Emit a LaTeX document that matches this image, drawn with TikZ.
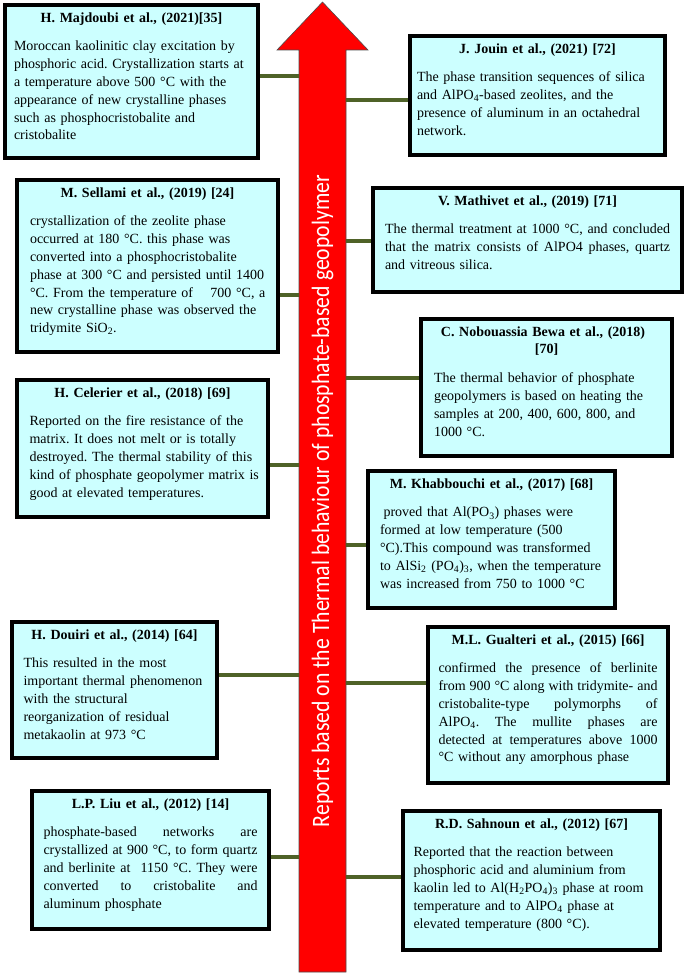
\documentclass[tikz,border=0pt]{standalone}
\usepackage{fontspec}
\setmainfont{Liberation Serif}
\newfontfamily\arrowfont{Carlito}
\usepackage{graphicx}
\definecolor{boxfill}{RGB}{204,255,255}
\definecolor{connc}{RGB}{79,98,40}
\newcommand{\ttl}[1]{{\centering\bfseries #1\par}\vspace{11pt}}
\newcommand{\jl}[2]{\hbox to #1{\spaceskip=0.25em plus 1fil\relax #2}}
\newcommand{\bx}[5]{\node[refbox, minimum width={#4-#2}, minimum height={#5-#3}] (#1) at ({(#2+#4)/2},{(#3+#5)/2}) {};}
\tikzset{
  refbox/.style={draw=black, line width=3.5pt, fill=boxfill, inner sep=0pt, rectangle},
  txt/.style={anchor=north, inner sep=0pt, font=\fontsize{14}{17.8}\selectfont, execute at begin node={\parindent=0pt\frenchspacing}},
  conn/.style={draw=connc, line width=3.5pt},
}
\begin{document}
\begin{tikzpicture}[x=1pt,y=-1pt]
\useasboundingbox (0,0) rectangle (685,976);
% arrow
\draw[fill=red, draw=black!70, line width=0.6pt] (299,972) -- (299,50) -- (277,50) -- (322.5,2) -- (368,50) -- (346,50) -- (346,972) -- cycle;
\node[rotate=90, text=white, inner sep=0pt, font=\arrowfont\fontsize{25}{25}\selectfont] (lbl) at (322.5,501) {\resizebox{652pt}{\height}{Reports based on the Thermal behaviour of phosphate-based geopolymer}};
% boxes
\bx{b1}{5}{5}{258}{158}
\bx{b2}{410}{36}{665}{155}
\bx{b3}{17}{180}{278}{352}
\bx{b4}{373}{188}{682}{292}
\bx{b5}{421}{319}{672}{456}
\bx{b6}{17}{380}{268}{517}
\bx{b7}{368}{471}{615}{608}
\bx{b8}{12}{622}{217}{758}
\bx{b9}{428}{627}{668}{783}
\bx{b10}{32}{791}{269}{929}
\bx{b11}{403}{811}{660}{950}
% connector ends on the shaft
\coordinate (c1) at (299,76);
\coordinate (c2) at (346,100);
\coordinate (c3) at (299,295);
\coordinate (c4) at (346,241);
\coordinate (c5) at (346,378);
\coordinate (c6) at (299,465);
\coordinate (c7) at (346,545);
\coordinate (c8) at (299,675);
\coordinate (c9) at (346,683);
\coordinate (c10) at (299,857);
\coordinate (c11) at (346,877);
\draw[conn] (c1) -- (c1 -| b1.east);
\draw[conn] (c2) -- (c2 -| b2.west);
\draw[conn] (c3) -- (c3 -| b3.east);
\draw[conn] (c4) -- (c4 -| b4.west);
\draw[conn] (c5) -- (c5 -| b5.west);
\draw[conn] (c6) -- (c6 -| b6.east);
\draw[conn] (c7) -- (c7 -| b7.west);
\draw[conn] (c8) -- (c8 -| b8.east);
\draw[conn] (c9) -- (c9 -| b9.west);
\draw[conn] (c10) -- (c10 -| b10.east);
\draw[conn] (c11) -- (c11 -| b11.west);
% texts
\node[txt, text width=235pt] (t1) at ([yshift=-9pt]b1.north) {\ttl{H. Majdoubi et al., (2021)[35]}\raggedright
\mbox{Moroccan kaolinitic clay excitation by}\\ \mbox{phosphoric acid. Crystallization starts at}\\ \mbox{a temperature above 500 °C with the}\\ \mbox{appearance of new crystalline phases}\\ \mbox{such as phosphocristobalite and}\\ cristobalite};
\node[txt, text width=241pt] (t2) at ([yshift=-9pt]b2.north) {\ttl{J. Jouin et al., (2021) [72]}\raggedright
\mbox{The phase transition sequences of silica}\\ \mbox{and AlPO\textsubscript{4}-based zeolites, and the}\\ \mbox{presence of aluminum in an octahedral}\\ network.};
\node[txt, text width=235pt] (t3) at ([yshift=-9pt]b3.north) {\ttl{M. Sellami et al., (2019) [24]}\raggedright
\mbox{crystallization of the zeolite phase}\\ \mbox{occurred at 180 °C. this phase was}\\ \mbox{converted into a phosphocristobalite}\\ \mbox{phase at 300 °C and persisted until 1400}\\ \mbox{°C. From the temperature of \hspace{8pt} 700 °C, a}\\ \mbox{new crystalline phase was observed the}\\ tridymite SiO\textsubscript{2}.};
\node[txt, text width=285pt] (t4) at ([yshift=-9pt]b4.north) {\ttl{V. Mathivet et al., (2019) [71]}
\jl{285pt}{The thermal treatment at 1000 °C, and concluded}
\jl{285pt}{that the matrix consists of AlPO4 phases, quartz}
and vitreous silica.};
\node[txt, text width=225pt] (t5) at ([yshift=-9pt]b5.north) {\ttl{C. Nobouassia Bewa et al., (2018)\newline {[70]}}\raggedright
\mbox{The thermal behavior of phosphate}\\ \mbox{geopolymers is based on heating the}\\ \mbox{samples at 200, 400, 600, 800, and}\\ 1000 °C.};
\node[txt, text width=226pt] (t6) at ([yshift=-9pt]b6.north) {\ttl{H. Celerier et al., (2018) [69]}\raggedright
\mbox{Reported on the fire resistance of the}\\ \mbox{matrix. It does not melt or is totally}\\ \mbox{destroyed. The thermal stability of this}\\ \mbox{kind of phosphate geopolymer matrix is}\\ good at elevated temperatures.};
\node[txt, text width=223pt] (t7) at ([yshift=-9pt]b7.north) {\ttl{M. Khabbouchi et al., (2017) [68]}\raggedright
\mbox{\hspace*{3.5pt}proved that Al(PO\textsubscript{3}) phases were}\\ \mbox{formed at low temperature (500}\\ \mbox{°C).This compound was transformed}\\ \mbox{to AlSi\textsubscript{2} (PO\textsubscript{4})\textsubscript{3}, when the temperature}\\ was increased from 750 to 1000 °C};
\node[txt, text width=182pt] (t8) at ([yshift=-9pt]b8.north) {\ttl{H. Douiri et al., (2014) [64]}\raggedright
\mbox{This resulted in the most}\\ \mbox{important thermal phenomenon}\\ \mbox{with the structural}\\ \mbox{reorganization of residual}\\ metakaolin at 973 °C};
\node[txt, text width=219pt] (t9) at ([yshift=-9pt]b9.north) {\ttl{M.L. Gualteri et al., (2015) [66]}
\jl{219pt}{confirmed the presence of berlinite}
\jl{219pt}{from 900 °C along with tridymite- and}
\jl{219pt}{cristobalite-type polymorphs of}
\jl{219pt}{AlPO\textsubscript{4}. The mullite phases are}
\jl{219pt}{detected at temperatures above 1000}
°C without any amorphous phase};
\node[txt, text width=214pt] (t10) at ([yshift=-9pt]b10.north) {\ttl{L.P. Liu et al., (2012) [14]}
\jl{214pt}{phosphate-based networks are}
\jl{214pt}{crystallized at 900 °C, to form quartz}
\jl{214pt}{and berlinite at \ 1150 °C. They were}
\jl{214pt}{converted to cristobalite and}
aluminum phosphate};
\node[txt, text width=236pt] (t11) at ([yshift=-9pt]b11.north) {\ttl{R.D. Sahnoun et al., (2012) [67]}\raggedright
\mbox{Reported that the reaction between}\\ \mbox{phosphoric acid and aluminium from}\\ \mbox{kaolin led to Al(H\textsubscript{2}PO\textsubscript{4})\textsubscript{3} phase at room}\\ \mbox{temperature and to AlPO\textsubscript{4} phase at}\\ elevated temperature (800 °C).};
\end{tikzpicture}
\end{document}
